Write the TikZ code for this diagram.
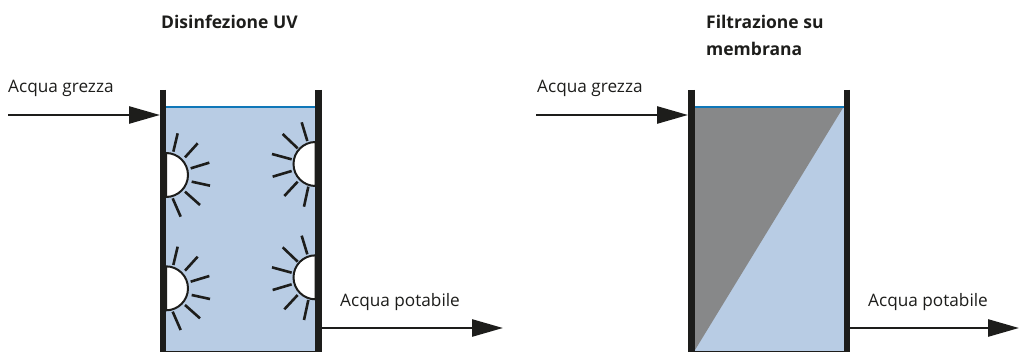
\documentclass[tikz,border=0pt]{standalone}
\usepackage{fontspec}
\setmainfont{Open Sans}
\definecolor{ink}{HTML}{1D1D1B}
\definecolor{water}{HTML}{B8CCE4}
\definecolor{lev}{HTML}{0F77B8}
\definecolor{memb}{HTML}{878889}
\usetikzlibrary{arrows.meta}
\tikzset{
  lab/.style={anchor=base west,inner sep=0pt,font=\fontsize{17.2pt}{20pt}\selectfont,text=ink},
  ttl/.style={anchor=base west,inner sep=0pt,font=\fontsize{17.5pt}{27pt}\selectfont\bfseries,text=ink,align=left},
  wall/.style={line width=6.5pt,ink},
  flow/.style={line width=2.6pt,ink,-{Triangle[length=31pt,width=17pt]},shorten >=0pt},
  ray/.style={line width=2.6pt,ink},
  lamp/.style={fill=white,draw=ink,line width=2pt}
}
\newcommand{\rayset}[1]{%
  \foreach \a/\b/\c/\d in {#1} {\draw[ray] (\a/3,\b/3) -- (\c/3,\d/3);}}
\begin{document}
\begin{tikzpicture}[x=1pt,y=-1pt]
\useasboundingbox (0,0) rectangle (1019,352);
% Tank 1
\path[fill=water] (166,107) rectangle (315.5,351);
\draw[ink,line width=1pt] (163,351) -- (318,351);
\draw[lev,line width=2pt] (166,107) -- (315.5,107);
\begin{scope}[shift={(0,70)}]
\foreach \dy in {0,340}{
 \begin{scope}[shift={(0,\dy/3)}]
  \rayset{520/245/533/190,555/262/593/220,572/295/628/278,575/335/630/347,555/365/600/405,518/385/542/440}
  \draw[lamp] (166,83) arc[start angle=-90,end angle=90,radius=22] -- cycle;
  \rayset{922/213/905/157,893/235/848/192,875/268/816/252,875/303/818/320,893/335/853/378,925/350/912/410}
  \draw[lamp] (315.5,72) arc[start angle=-90,end angle=-270,radius=22] -- cycle;
 \end{scope}}
\end{scope}
\draw[wall] (163,90) -- (163,352);
\draw[wall] (318.5,90) -- (318.5,352);
% Tank 2
\path[fill=water] (695,107) rectangle (843.5,351);
\path[fill=memb] (695,107) -- (843.5,107) -- (695,350) -- cycle;
\draw[ink,line width=1pt] (692,351) -- (847,351);
\draw[lev,line width=2pt] (695,107) -- (843.5,107);
\draw[wall] (691.5,90) -- (691.5,352);
\draw[wall] (846.8,90) -- (846.8,352);
% Free ends and labels
\coordinate (in1) at (8,115);   \coordinate (t1a) at (160,115);
\coordinate (o1) at (322,328);  \coordinate (t1b) at (503,328);
\coordinate (in2) at (536,115); \coordinate (t2a) at (688,115);
\coordinate (o2) at (850,328);  \coordinate (t2b) at (1019,328);
\draw[flow] (in1) -- (t1a);
\draw[flow] (o1) -- (t1b);
\draw[flow] (in2) -- (t2a);
\draw[flow] (o2) -- (t2b);
\node[lab] (g1) at (8,93) {Acqua grezza};
\node[lab] (p1) at (340,307) {Acqua potabile};
\node[lab] (g2) at (537,93) {Acqua grezza};
\node[lab] (p2) at (868,307) {Acqua potabile};
\node[ttl] (title1) at (161,29) {Disinfezione UV};
\node[ttl] (title2) at (706,56) {Filtrazione su\\membrana};
\end{tikzpicture}
\end{document}
